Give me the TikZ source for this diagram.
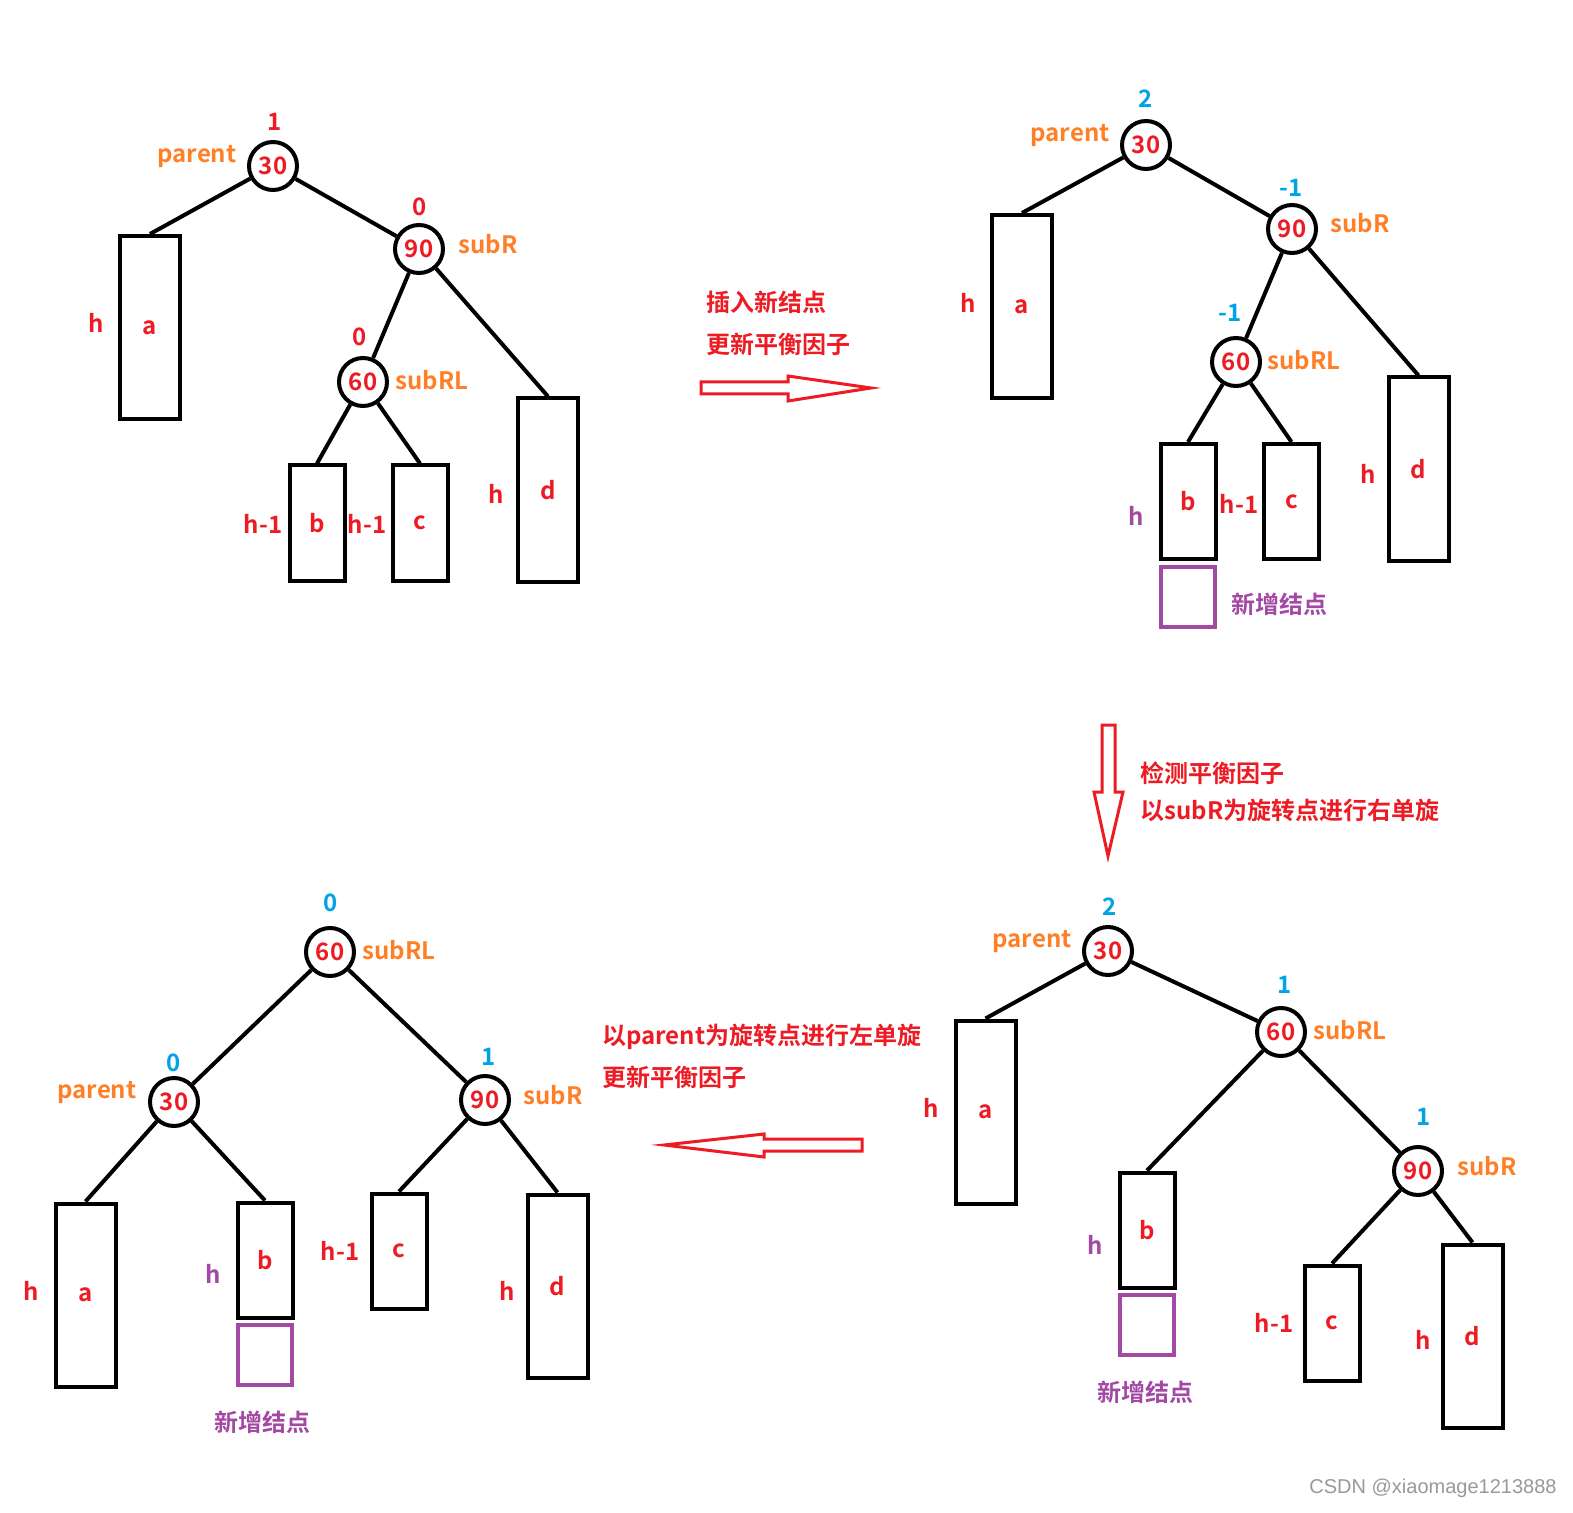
\documentclass[tikz,border=0pt]{standalone}
\usepackage{fontspec}
\setmainfont{Noto Sans CJK SC}[BoldFont={* Bold}]
\newfontfamily\wmfont{Liberation Sans}
\usepackage{tikz}

\definecolor{pred}{RGB}{237,28,36}
\definecolor{porange}{RGB}{255,127,39}
\definecolor{pblue}{RGB}{0,162,232}
\definecolor{ppurple}{RGB}{163,73,164}

\begin{document}
\begin{tikzpicture}[
    x=0.5pt, y=-0.5pt,
    every node/.style = {
      font=\fontsize{12}{14}\selectfont\bfseries,
      inner sep=0pt
    },
    key/.style = {circle, draw, line width=2pt, minimum size=24pt, text=pred},
    tallbox/.style = {draw, line width=2pt, minimum width=30pt, minimum height=91.5pt, text=pred},
    shortbox/.style = {draw, line width=2pt, minimum width=27.5pt, minimum height=57.5pt, text=pred},
    newbox/.style = {draw=ppurple, line width=2pt, minimum width=27pt, minimum height=30pt},
    ptr/.style = {text=porange},
    bfold/.style = {text=pred},
    bfnew/.style = {text=pblue},
    hgt/.style = {text=pred},
    hnew/.style = {text=ppurple},
    note/.style = {text=pred, anchor=west},
    edge/.style = {line width=2pt},
    hollow/.style = {draw=pred, line width=1.5pt, line join=miter}
  ]
    \fill[white] (0,0) rectangle (1573,1513);
    \useasboundingbox (0,0) rectangle (1573,1513);

    % Before insertion
    \node[key] (p1) at (273,166) {30};
    \node[key] (r1) at (419,249) {90};
    \node[key] (rl1) at (363,382) {60};
    \node[tallbox] (a1) at (150,327.5) {a};
    \node[shortbox] (b1) at (317,523) {b};
    \node[shortbox] (c1) at (420,523) {c};
    \node[tallbox] (d1) at (548,490) {d};
    \node[bfold] (bp1) at (275,122) {1};
    \node[bfold] (br1) at (420,207) {0};
    \node[bfold] (brl1) at (360,337) {0};
    \node[ptr] (np1) at (197,157) {parent};
    \node[ptr] (nr1) at (488,244) {subR};
    \node[ptr] (nrl1) at (432,380) {subRL};
    \node[hgt] (ha1) at (96,323) {h};
    \node[hgt] (hb1) at (263,524) {h-1};
    \node[hgt] (hc1) at (367,524) {h-1};
    \node[hgt] (hd1) at (496,494) {h};
    \draw[edge] (p1) -- (a1.north);
    \draw[edge] (p1) -- (r1);
    \draw[edge] (r1) -- (rl1);
    \draw[edge] (r1) -- (d1.north);
    \draw[edge] (rl1) -- (b1.north);
    \draw[edge] (rl1) -- (c1.north);

    % After insertion
    \node[key] (p2) at (1146,145) {30};
    \node[key] (r2) at (1292,229) {90};
    \node[key] (rl2) at (1236,362) {60};
    \node[tallbox] (a2) at (1022,306.5) {a};
    \node[shortbox] (b2) at (1188,501.5) {b};
    \node[newbox] (n2) at (1188,597) {};
    \node[shortbox] (c2) at (1291.5,501.5) {c};
    \node[tallbox] (d2) at (1418.5,469) {d};
    \node[bfnew] (bp2) at (1146,99) {2};
    \node[bfnew] (br2) at (1291,188) {-1};
    \node[bfnew] (brl2) at (1230,313) {-1};
    \node[ptr] (np2) at (1070,136) {parent};
    \node[ptr] (nr2) at (1360,223) {subR};
    \node[ptr] (nrl2) at (1304,360) {subRL};
    \node[hgt] (ha2) at (968,303) {h};
    \node[hnew] (hb2) at (1136,516) {h};
    \node[hgt] (hc2) at (1239,504) {h-1};
    \node[hgt] (hd2) at (1368,474) {h};
    \node[hnew] (tn2) at (1279,604) {新增结点};
    \draw[edge] (p2) -- (a2.north);
    \draw[edge] (p2) -- (r2);
    \draw[edge] (r2) -- (rl2);
    \draw[edge] (r2) -- (d2.north);
    \draw[edge] (rl2) -- (b2.north);
    \draw[edge] (rl2) -- (c2.north);

    % After right rotation on subR
    \node[key] (p3) at (1108,951) {30};
    \node[key] (rl3) at (1281,1032) {60};
    \node[key] (r3) at (1418,1171) {90};
    \node[tallbox] (a3) at (985.5,1112) {a};
    \node[shortbox] (b3) at (1147,1230) {b};
    \node[newbox] (n3) at (1147,1325) {};
    \node[shortbox] (c3) at (1332,1323) {c};
    \node[tallbox] (d3) at (1472.5,1336) {d};
    \node[bfnew] (bp3) at (1110,907) {2};
    \node[bfnew] (brl3) at (1285,985) {1};
    \node[bfnew] (br3) at (1424,1117) {1};
    \node[ptr] (np3) at (1032,942) {parent};
    \node[ptr] (nrl3) at (1350,1030) {subRL};
    \node[ptr] (nr3) at (1487,1166) {subR};
    \node[hgt] (ha3) at (931,1108) {h};
    \node[hnew] (hb3) at (1095,1245) {h};
    \node[hgt] (hc3) at (1274,1323) {h-1};
    \node[hgt] (hd3) at (1423,1340) {h};
    \node[hnew] (tn3) at (1145,1392) {新增结点};
    \draw[edge] (p3) -- (a3.north);
    \draw[edge] (p3) -- (rl3);
    \draw[edge] (rl3) -- (b3.north);
    \draw[edge] (rl3) -- (r3);
    \draw[edge] (r3) -- (c3.north);
    \draw[edge] (r3) -- (d3.north);

    % After left rotation on parent
    \node[key] (rl4) at (330,952) {60};
    \node[key] (p4) at (174,1102) {30};
    \node[key] (r4) at (485,1100) {90};
    \node[tallbox] (a4) at (85.5,1295) {a};
    \node[shortbox] (b4) at (265,1260) {b};
    \node[newbox] (n4) at (265,1355) {};
    \node[shortbox] (c4) at (399,1251) {c};
    \node[tallbox] (d4) at (557.5,1286) {d};
    \node[bfnew] (brl4) at (331,903) {0};
    \node[bfnew] (bp4) at (174,1063) {0};
    \node[bfnew] (br4) at (489,1057) {1};
    \node[ptr] (nrl4) at (399,950) {subRL};
    \node[ptr] (np4) at (97,1093) {parent};
    \node[ptr] (nr4) at (553,1095) {subR};
    \node[hgt] (ha4) at (31,1291) {h};
    \node[hnew] (hb4) at (213,1274) {h};
    \node[hgt] (hc4) at (340,1251) {h-1};
    \node[hgt] (hd4) at (507,1291) {h};
    \node[hnew] (tn4) at (262,1422) {新增结点};
    \draw[edge] (rl4) -- (p4);
    \draw[edge] (rl4) -- (r4);
    \draw[edge] (p4) -- (a4.north);
    \draw[edge] (p4) -- (b4.north);
    \draw[edge] (r4) -- (c4.north);
    \draw[edge] (r4) -- (d4.north);

    % Steps
    \node[note] (s1a) at (706,302) {插入新结点};
    \node[note] (s1b) at (706,344) {更新平衡因子};
    \draw[hollow] (701,382) -- (788,382) -- (788,376) -- (871,388)
      -- (788,401) -- (788,394) -- (701,394) -- cycle;
    \node[note] (s2a) at (1140,773) {检测平衡因子};
    \node[note] (s2b) at (1140,810) {以subR为旋转点进行右单旋};
    \draw[hollow] (1102,725) -- (1115,725) -- (1115,792) -- (1123,792)
      -- (1108,856) -- (1094,792) -- (1102,792) -- cycle;
    \node[note] (s3a) at (602,1037) {以parent为旋转点进行左单旋};
    \node[note] (s3b) at (602,1077) {更新平衡因子};
    \draw[hollow] (862,1139) -- (764,1139) -- (764,1134) -- (664,1145)
      -- (764,1157) -- (764,1151) -- (862,1151) -- cycle;

    \node[font=\wmfont\fontsize{10}{12}\selectfont, text=black!40] (wm) at (1433,1488) {CSDN @xiaomage1213888};
  \end{tikzpicture}
\end{document}
